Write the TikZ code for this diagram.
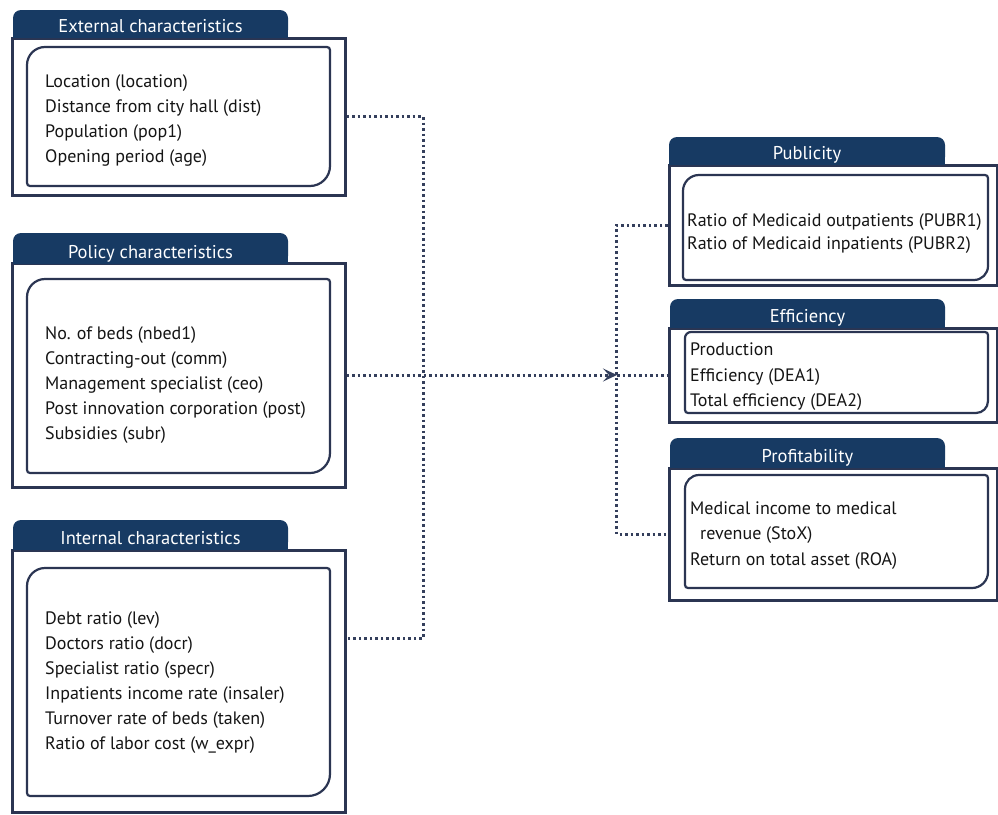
\documentclass[tikz,border=0pt]{standalone}
\usepackage{fontspec}
\setmainfont{PT Sans}
\usetikzlibrary{arrows.meta}
\definecolor{navy}{HTML}{173A63}
\definecolor{edge}{HTML}{2B3552}
\definecolor{dotc}{HTML}{343F5C}
\definecolor{ink}{HTML}{151515}
\tikzset{
  outerbox/.style={draw=edge, line width=3pt, inner sep=0pt, rectangle},
  innerln/.style={draw=edge, line width=2.2pt},
  tabtext/.style={anchor=base, inner sep=0pt, text=white, font=\fontsize{18.5}{22}\selectfont},
  txt/.style={anchor=base west, inner sep=0pt, text=ink, font=\fontsize{18}{22}\selectfont},
  conn/.style={draw=dotc, line width=3pt, dash pattern=on 2.5pt off 3pt},
}
% x1 x2 ytop ybot R1 R2 (pixel units, y downward positive)
\newcommand\innerbox[6]{%
  \draw[innerln] (#1,{-(#4)+3}) -- (#1,{-(#3)-(#5)})
    arc[start angle=180,end angle=90,radius=#5pt] -- ({#2-3},-#3)
    arc[start angle=90,end angle=0,radius=3pt] -- (#2,{-(#4)+(#6)})
    arc[start angle=0,end angle=-90,radius=#6pt] -- ({#1+3},-#4)
    arc[start angle=270,end angle=180,radius=3pt] -- cycle;}
% name x1 x2 ytop ybot text
\newcommand\tabbox[6]{%
  \fill[navy, rounded corners=8pt] (#2,-#4) rectangle (#3,-#5);
  \fill[navy] (#2,{-(#5)+10}) rectangle (#3,-#5);
  \node[tabtext] (#1) at ({(#2+#3)/2},{-(#5)+6}) {#6};}
\begin{document}
\begin{tikzpicture}[x=1pt,y=1pt]
\useasboundingbox (0,0) rectangle (998,-814);
\fill[white] (0,0) rectangle (998,-814);

% ---- outer boxes ----
\node[outerbox, minimum width=333pt, minimum height=157pt] (ext) at (178.5,-116.5) {};
\node[outerbox, minimum width=333pt, minimum height=224pt] (pol) at (178.5,-375) {};
\node[outerbox, minimum width=333pt, minimum height=262pt] (int) at (178.5,-681) {};
\node[outerbox, minimum width=328pt, minimum height=120pt] (pub) at (833,-225) {};
\node[outerbox, minimum width=328pt, minimum height=94pt] (eff) at (833,-375) {};
\node[outerbox, minimum width=328pt, minimum height=132pt] (pro) at (833,-534) {};

% ---- inner boxes ----
\innerbox{27}{330}{47}{186}{18}{20}
\innerbox{27}{330}{279}{473}{18}{20}
\innerbox{27}{330}{568}{796}{18}{22}
\innerbox{683}{988}{175}{280}{16}{14}
\innerbox{685}{988}{332}{413}{6}{12}
\innerbox{685}{988}{475}{588}{14}{16}

% ---- tabs ----
\tabbox{text}{13}{288}{10}{38}{External characteristics}
\tabbox{tpol}{13}{288}{233}{264}{Policy characteristics}
\tabbox{tint}{13}{288}{520}{550}{Internal characteristics}
\tabbox{tpub}{669}{945}{137}{165}{Publicity}
\tabbox{teff}{670}{945}{299}{328}{Efficiency}
\tabbox{tpro}{670}{945}{438}{468}{Profitability}

% ---- texts ----
\node[txt] (e1) at (45,-87) {Location (location)};
\node[txt] (e2) at (45,-112) {Distance from city hall (dist)};
\node[txt] (e3) at (45,-137) {Population (pop1)};
\node[txt] (e4) at (45,-162) {Opening period (age)};

\node[txt] (p1) at (45,-339) {No. of beds (nbed1)};
\node[txt] (p2) at (45,-364) {Contracting-out (comm)};
\node[txt] (p3) at (45,-389) {Management specialist (ceo)};
\node[txt] (p4) at (45,-414) {Post innovation corporation (post)};
\node[txt] (p5) at (45,-439) {Subsidies (subr)};

\node[txt] (i1) at (45,-624) {Debt ratio (lev)};
\node[txt] (i2) at (45,-649) {Doctors ratio (docr)};
\node[txt] (i3) at (45,-674) {Specialist ratio (specr)};
\node[txt] (i4) at (45,-699) {Inpatients income rate (insaler)};
\node[txt] (i5) at (45,-724) {Turnover rate of beds (taken)};
\node[txt] (i6) at (45,-749) {Ratio of labor cost (w\_expr)};

\node[txt] (u1) at (687,-226) {Ratio of Medicaid outpatients (PUBR1)};
\node[txt] (u2) at (687,-249) {Ratio of Medicaid inpatients (PUBR2)};

\node[txt] (f1) at (690,-355) {Production};
\node[txt] (f2) at (690,-381) {Efficiency (DEA1)};
\node[txt] (f3) at (690,-406) {Total efficiency (DEA2)};

\node[txt] (r1) at (690,-514) {Medical income to medical};
\node[txt] (r2) at (700,-539) {revenue (StoX)};
\node[txt] (r3) at (690,-565) {Return on total asset (ROA)};

% ---- connectors ----
\coordinate (tip) at (617,-375);
\coordinate (intc) at (int.east |- 0,-638);
\draw[conn] (ext.east) -- ++(76.5,0) |- (intc);
\draw[conn] (pub.west) -- ++(-51,0) |- (pro.west);
\draw[conn] (tip) -- (eff.west);
\draw[conn, -{Stealth[length=14pt,width=13pt,inset=6pt]}] (pol.east) -- (tip);
\end{tikzpicture}
\end{document}
